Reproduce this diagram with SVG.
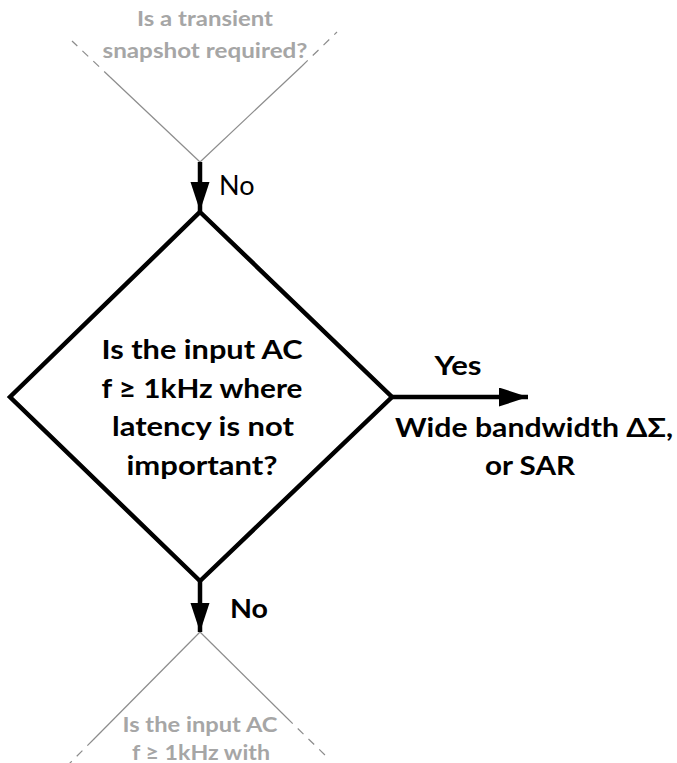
<svg xmlns="http://www.w3.org/2000/svg" width="677" height="763" viewBox="0 0 677 763">
<style>
.bold{font-family:Lato,"Open Sans","Liberation Sans",sans-serif;font-weight:bold;font-size:27px;fill:#000;text-anchor:middle}
.reg{font-family:Lato,"Open Sans","Liberation Sans",sans-serif;font-size:27px;fill:#000}
.ghost{font-family:Lato,"Open Sans","Liberation Sans",sans-serif;font-weight:bold;font-size:20.5px;fill:#A6A6A6;text-anchor:middle}
.gl{stroke:#8C8C8C;stroke-width:1.2;fill:none}
.gd{stroke:#8C8C8C;stroke-width:1.2;fill:none;stroke-dasharray:8 7}
.conn{stroke:#000;stroke-width:4.5;fill:none;marker-end:url(#ah)}
</style>
<defs>
<marker id="ah" markerUnits="userSpaceOnUse" markerWidth="30" markerHeight="20" refX="29" refY="9.5" orient="auto">
<path d="M0,0 L29,9.5 L0,19 z" fill="#000"/>
</marker>
</defs>
<g id="prev-decision">
<line class="gl" x1="200" y1="162" x2="110" y2="77"/>
<line class="gd" x1="110" y1="77" x2="72" y2="41"/>
<line class="gl" x1="200" y1="162" x2="302" y2="66"/>
<line class="gd" x1="302" y1="66" x2="337" y2="32"/>
<text class="ghost" x="205" y="26" textLength="136" lengthAdjust="spacingAndGlyphs">Is a transient</text>
<text class="ghost" x="205" y="58" textLength="205" lengthAdjust="spacingAndGlyphs">snapshot required?</text>
</g>
<g id="main-decision">
<polygon points="200,212 392,397 200,581 10,397" fill="#fff" stroke="#000" stroke-width="4.5" stroke-linejoin="miter"/>
<text class="bold" x="202" y="359" textLength="201" lengthAdjust="spacingAndGlyphs">Is the input AC</text>
<text class="bold" x="202" y="398" textLength="201" lengthAdjust="spacingAndGlyphs">f ≥ 1kHz where</text>
<text class="bold" x="203" y="436" textLength="182" lengthAdjust="spacingAndGlyphs">latency is not</text>
<text class="bold" x="202" y="475" textLength="151" lengthAdjust="spacingAndGlyphs">important?</text>
</g>
<g id="result">
<text class="bold" x="534" y="437" textLength="278" lengthAdjust="spacingAndGlyphs">Wide bandwidth ΔΣ,</text>
<text class="bold" x="530" y="475" textLength="90" lengthAdjust="spacingAndGlyphs">or SAR</text>
</g>
<g id="next-decision">
<line class="gl" x1="200" y1="632" x2="93" y2="740"/>
<line class="gd" x1="93" y1="740" x2="67" y2="766"/>
<line class="gl" x1="200" y1="632" x2="287" y2="718"/>
<line class="gd" x1="287" y1="718" x2="328" y2="758"/>
<text class="ghost" x="200" y="732" textLength="155" lengthAdjust="spacingAndGlyphs">Is the input AC</text>
<text class="ghost" x="201" y="760" textLength="138" lengthAdjust="spacingAndGlyphs">f ≥ 1kHz with</text>
</g>
<g id="connectors">
<line class="conn" x1="200" y1="162" x2="200" y2="211"/>
<text class="reg" x="219" y="195">No</text>
<line class="conn" x1="392" y1="397" x2="528" y2="397"/>
<text class="bold" x="458" y="375" textLength="47" lengthAdjust="spacingAndGlyphs">Yes</text>
<line class="conn" x1="200" y1="581" x2="200" y2="632"/>
<text class="bold" x="249" y="618" textLength="38" lengthAdjust="spacingAndGlyphs">No</text>
</g>
</svg>
